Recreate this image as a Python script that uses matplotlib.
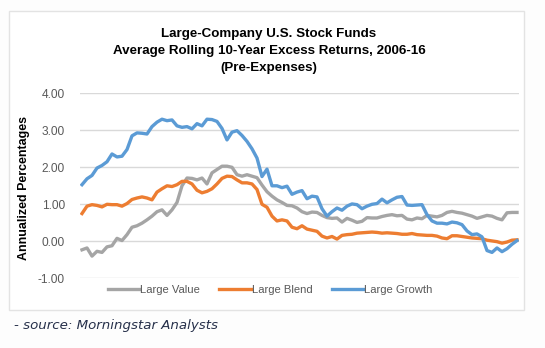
import matplotlib
matplotlib.use("Agg")
import matplotlib.pyplot as plt
from matplotlib.patches import Rectangle
from matplotlib import font_manager

# Rolling 10-year excess returns (one point every ~5 px, left to right)
large_value = [
    -0.23, -0.18, -0.40, -0.27, -0.30, -0.15, -0.12, 0.08, 0.02, 0.18,
    0.38, 0.42, 0.49, 0.58, 0.68, 0.80, 0.85, 0.70, 0.85, 1.05,
    1.50, 1.71, 1.70, 1.66, 1.71, 1.55, 1.85, 1.94, 2.03, 2.03,
    2.00, 1.80, 1.76, 1.80, 1.76, 1.72, 1.52, 1.34, 1.22, 1.12,
    1.05, 0.97, 0.96, 0.90, 0.80, 0.75, 0.79, 0.78, 0.70, 0.64,
    0.62, 0.63, 0.52, 0.62, 0.57, 0.51, 0.54, 0.64, 0.63, 0.63,
    0.67, 0.70, 0.72, 0.69, 0.70, 0.60, 0.58, 0.63, 0.61, 0.70,
    0.68, 0.66, 0.70, 0.78, 0.81, 0.78, 0.76, 0.72, 0.68, 0.62,
    0.66, 0.70, 0.68, 0.62, 0.58, 0.77, 0.78, 0.78,
]
large_blend = [
    0.75, 0.95, 0.99, 0.97, 0.93, 1.00, 0.99, 0.99, 0.95, 1.02,
    1.13, 1.17, 1.20, 1.17, 1.12, 1.33, 1.42, 1.50, 1.48, 1.53,
    1.62, 1.62, 1.55, 1.38, 1.31, 1.35, 1.42, 1.55, 1.70, 1.76,
    1.75, 1.66, 1.58, 1.58, 1.55, 1.40, 1.00, 0.92, 0.68, 0.55,
    0.58, 0.55, 0.38, 0.34, 0.42, 0.33, 0.30, 0.27, 0.14, 0.09,
    0.13, 0.06, 0.16, 0.18, 0.19, 0.22, 0.23, 0.24, 0.25, 0.24,
    0.22, 0.23, 0.22, 0.21, 0.19, 0.19, 0.21, 0.18, 0.17, 0.16,
    0.16, 0.14, 0.09, 0.07, 0.15, 0.15, 0.13, 0.11, 0.09, 0.08,
    0.07, 0.03, 0.01, -0.01, -0.05, -0.02, 0.03, 0.04,
]
large_growth = [
    1.53, 1.69, 1.78, 1.98, 2.05, 2.15, 2.36, 2.28, 2.30, 2.48,
    2.85, 2.93, 2.92, 2.90, 3.10, 3.22, 3.30, 3.26, 3.28, 3.12,
    3.08, 3.10, 3.04, 3.18, 3.12, 3.30, 3.29, 3.24, 3.05, 2.74,
    2.95, 2.99, 2.86, 2.70, 2.50, 2.25, 1.75, 1.95, 1.50, 1.50,
    1.45, 1.49, 1.27, 1.33, 1.37, 1.15, 1.22, 1.20, 0.88, 0.68,
    0.80, 0.90, 0.84, 0.95, 1.01, 0.99, 0.88, 0.95, 1.00, 1.02,
    1.14, 1.04, 1.12, 1.19, 1.21, 0.98, 0.97, 0.98, 0.99, 0.72,
    0.55, 0.49, 0.49, 0.47, 0.52, 0.50, 0.45, 0.28, 0.18, 0.20,
    0.12, -0.25, -0.30, -0.18, -0.28, -0.20, -0.08, 0.02,
]
series_names = ["Large Value", "Large Blend", "Large Growth"]
series_colors = ["#A5A5A5", "#ED7D31", "#5B9BD5"]
y_ticks = [-1, 0, 1, 2, 3, 4]
y_tick_labels = ["-1.00", "0.00", "1.00", "2.00", "3.00", "4.00"]

title_lines = "Large-Company U.S. Stock Funds\nAverage Rolling 10-Year Excess Returns, 2006-16\n(Pre-Expenses)"

installed = {f.name for f in font_manager.fontManager.ttflist}
NARROW = ["Liberation Sans Narrow", "DejaVu Sans"] if "Liberation Sans Narrow" in installed else ["Liberation Sans", "DejaVu Sans"]

W, H = 545, 348
fig = plt.figure(figsize=(W / 100, H / 100), dpi=100, facecolor="#FDFDFD")

# light frame around the chart area
fig.add_artist(Rectangle((9 / W, 1 - 310 / H), (524 - 9) / W, (310 - 10.5) / H,
                         transform=fig.transFigure, fill=True, facecolor="white",
                         edgecolor="#E3E3E3", linewidth=1.0, zorder=0))

ax = fig.add_axes([80 / W, 1 - 278.3 / H, (519 - 80) / W, (278.3 - 93.3) / H])
ax.set_facecolor("none")

x = list(range(len(large_value)))
for vals, name, col in zip([large_value, large_blend, large_growth], series_names, series_colors):
    ax.plot(x, vals, color=col, linewidth=2.4, label=name, solid_joinstyle="round", zorder=3)

ax.set_xlim(-0.4, len(x) - 0.6)
ax.set_ylim(-1, 4)
ax.set_yticks(y_ticks)
ax.set_yticklabels(y_tick_labels, family=NARROW, fontsize=8.6, color="#595959")
ax.set_xticks([])
ax.tick_params(axis="y", length=0, pad=11)
ax.grid(axis="y", color="#D9D9D9", linewidth=1.0, zorder=0)
for spine in ax.spines.values():
    spine.set_visible(False)

ax.set_ylabel("Annualized Percentages", family=NARROW, fontsize=8.9, fontweight="bold",
              color="black")
ax.yaxis.set_label_coords(-0.114, 0.49)

fig.text(269 / W, 1 - 51 / H, title_lines, ha="center", va="center", family=NARROW,
         fontsize=9.6, fontweight="bold", color="black", linespacing=1.55)

leg = fig.legend(loc="center", bbox_to_anchor=(270 / W, 1 - 290 / H), ncol=3, frameon=False,
                 prop={"family": NARROW, "size": 8.1}, handlelength=2.8, handletextpad=0.1,
                 columnspacing=1.7)
for t in leg.get_texts():
    t.set_color("#595959")

fig.text(14 / W, 1 - 325 / H, "- source: Morningstar Analysts", ha="left", va="center",
         fontsize=9.6, style="italic", color="#26304A")

fig.savefig("out.png", dpi=100, facecolor=fig.get_facecolor())
